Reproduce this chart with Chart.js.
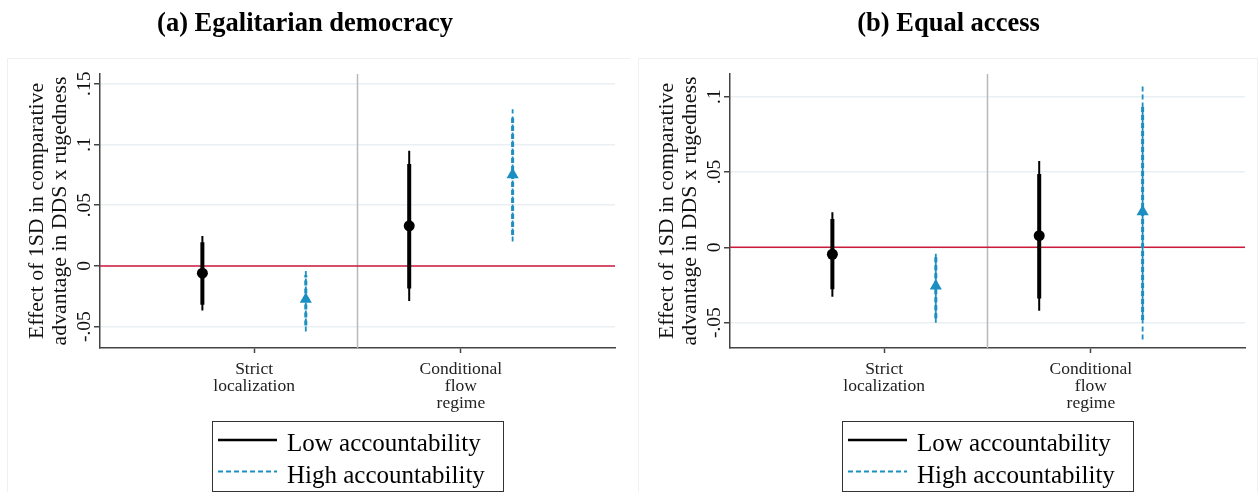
<!DOCTYPE html>
<html>
<head>
<meta charset="utf-8">
<script src="https://cdn.jsdelivr.net/npm/chart.js@4.4.1/dist/chart.umd.min.js"></script>
<style>
  html, body { margin: 0; padding: 0; background: #fff; }
  #wrap { position: relative; width: 1258px; height: 492px; overflow: hidden; background: #fff; }
  #wrap canvas { position: absolute; top: 0; }
</style>
</head>
<body>
<div id="wrap">
  <canvas id="panelA" width="630" height="492" style="left:0px"></canvas>
  <canvas id="panelB" width="628" height="492" style="left:630px"></canvas>
</div>
<script>
// Categories, series and tick labels
const categories = [["Strict", "localization"], ["Conditional", "flow", "regime"]];
const seriesNames = ["Low accountability", "High accountability"];
const panelTitles = ["(a) Egalitarian democracy", "(b) Equal access"];
const yAxisTitle = ["Effect of 1SD in comparative", "advantage in DDS x rugedness"];

const egalYRange = [-0.0676, 0.158];
const egalYTicks = [-0.05, 0, 0.05, 0.1, 0.15];
const egalYTickLabels = ["-.05", "0", ".05", ".1", ".15"];
const accessYRange = [-0.0668, 0.115];
const accessYTicks = [-0.05, 0, 0.05, 0.1];
const accessYTickLabels = ["-.05", "0", ".05", ".1"];

// (a) Egalitarian democracy: point estimates with 95% and 90% intervals
const egalLowEst = [-0.006, 0.033];
const egalLowCI95 = [[-0.0368, 0.0247], [-0.0288, 0.0948]];
const egalLowCI90 = [[-0.032, 0.0195], [-0.0187, 0.084]];
const egalHighEst = [-0.0275, 0.075];
const egalHighCI95 = [[-0.054, -0.0042], [0.020, 0.129]];
const egalHighCI90 = [[-0.049, -0.0075], [0.0255, 0.124]];

// (b) Equal access
const accessLowEst = [-0.0046, 0.0077];
const accessLowCI95 = [[-0.0328, 0.0232], [-0.0421, 0.0573]];
const accessLowCI90 = [[-0.0279, 0.0188], [-0.0339, 0.0487]];
const accessHighEst = [-0.0257, 0.0236];
const accessHighCI95 = [[-0.050, -0.0036], [-0.0611, 0.1084]];
const accessHighCI90 = [[-0.047, -0.0065], [-0.0483, 0.0945]];

const SERIF = '"Liberation Serif", "Times New Roman", Times, serif';
const LOW_COLOR = '#000000';
const HIGH_COLOR = '#1b8ec2';
const ZERO_COLOR = '#cc1a3c';
const DIVIDER_COLOR = '#b9b9b9';
const AXIS_COLOR = '#444444';
const GRID_COLOR = '#e9eff2';
const FRAME_COLOR = '#eef1f3';
const OFFSET = 0.25;   // horizontal shift of each series around its category

function segments(ci, offset) {
  const pts = [];
  ci.forEach((c, i) => {
    const x = i + 1 + offset;
    pts.push({ x, y: c[0] }, { x, y: c[1] }, { x, y: null });
  });
  return pts;
}
function points(est, offset) {
  return est.map((v, i) => ({ x: i + 1 + offset, y: v }));
}

function buildPanel(canvasId, title, titleX, frame, yRange, yTicks, yTickLabels,
                    lowEst, lowCI95, lowCI90, highEst, highCI95, highCI90) {
  const canvas = document.getElementById(canvasId);
  const W = canvas.width;

  const decorations = {
    id: 'decorations_' + canvasId,
    beforeDraw(chart) {
      const ctx = chart.ctx;
      ctx.save();
      ctx.fillStyle = '#ffffff';
      ctx.fillRect(0, 0, chart.width, chart.height);
      ctx.strokeStyle = FRAME_COLOR;
      ctx.lineWidth = 1;
      ctx.strokeRect(frame[0] + 0.5, 58.5, frame[1] - frame[0], chart.height + 20);
      ctx.restore();
    },
    beforeDatasetsDraw(chart) {
      const { ctx, chartArea, scales } = chart;
      ctx.save();
      // divider between the two regimes
      const xd = scales.x.getPixelForValue(1.5);
      ctx.strokeStyle = DIVIDER_COLOR;
      ctx.lineWidth = 1.5;
      ctx.beginPath();
      ctx.moveTo(xd, chartArea.top);
      ctx.lineTo(xd, chartArea.bottom);
      ctx.stroke();
      // zero reference line
      const y0 = scales.y.getPixelForValue(0);
      ctx.strokeStyle = ZERO_COLOR;
      ctx.lineWidth = 1.5;
      ctx.beginPath();
      ctx.moveTo(chartArea.left, y0);
      ctx.lineTo(chartArea.right, y0);
      ctx.stroke();
      ctx.restore();
    },
    afterDraw(chart) {
      const { ctx, chartArea, scales } = chart;
      ctx.save();
      // panel title
      ctx.fillStyle = '#000';
      ctx.font = 'bold 26.5px ' + SERIF;
      ctx.textAlign = 'center';
      ctx.textBaseline = 'alphabetic';
      ctx.fillText(title, titleX, 31);

      // vertical tick labels on the y axis
      ctx.font = '19.5px ' + SERIF;
      ctx.fillStyle = '#111';
      yTicks.forEach((v, i) => {
        const py = scales.y.getPixelForValue(v);
        ctx.save();
        ctx.translate(85, py);
        ctx.rotate(-Math.PI / 2);
        ctx.textAlign = 'center';
        ctx.textBaseline = 'middle';
        ctx.fillText(yTickLabels[i], 0, 0);
        ctx.restore();
      });

      // y axis title (two lines)
      const cy = (chartArea.top + chartArea.bottom) / 2;
      ctx.font = '21.8px ' + SERIF;
      ctx.fillStyle = '#111';
      [37, 60].forEach((x, i) => {
        ctx.save();
        ctx.translate(x, cy);
        ctx.rotate(-Math.PI / 2);
        ctx.textAlign = 'center';
        ctx.textBaseline = 'middle';
        ctx.fillText(yAxisTitle[i], 0, 0);
        ctx.restore();
      });

      // legend
      ctx.strokeStyle = '#333';
      ctx.lineWidth = 1;
      ctx.strokeRect(212.5, 421.5, 291, 70);
      ctx.lineCap = 'butt';
      ctx.strokeStyle = LOW_COLOR;
      ctx.lineWidth = 2.5;
      ctx.setLineDash([]);
      ctx.beginPath(); ctx.moveTo(218, 440); ctx.lineTo(277, 440); ctx.stroke();
      ctx.strokeStyle = HIGH_COLOR;
      ctx.lineWidth = 2;
      ctx.setLineDash([5, 3]);
      ctx.beginPath(); ctx.moveTo(218, 471.5); ctx.lineTo(277, 471.5); ctx.stroke();
      ctx.setLineDash([]);
      ctx.fillStyle = '#000';
      ctx.font = '25px ' + SERIF;
      ctx.textAlign = 'left';
      ctx.textBaseline = 'alphabetic';
      ctx.fillText(seriesNames[0], 287, 451);
      ctx.fillText(seriesNames[1], 287, 483);
      ctx.restore();
    }
  };

  return new Chart(canvas, {
    type: 'scatter',
    data: {
      datasets: [
        { label: seriesNames[0], data: points(lowEst, -OFFSET), pointStyle: 'circle',
          pointRadius: 5.5, backgroundColor: LOW_COLOR, borderWidth: 0, showLine: false },
        { label: seriesNames[1], data: points(highEst, OFFSET), pointStyle: 'triangle',
          pointRadius: 7, backgroundColor: HIGH_COLOR, borderWidth: 0, showLine: false },
        { type: 'line', label: seriesNames[0] + ' 90%', data: segments(lowCI90, -OFFSET),
          borderColor: LOW_COLOR, borderWidth: 4, pointRadius: 0, spanGaps: false, borderCapStyle: 'butt' },
        { type: 'line', label: seriesNames[0] + ' 95%', data: segments(lowCI95, -OFFSET),
          borderColor: LOW_COLOR, borderWidth: 2, pointRadius: 0, spanGaps: false, borderCapStyle: 'butt' },
        { type: 'line', label: seriesNames[1] + ' 90%', data: segments(highCI90, OFFSET),
          borderColor: HIGH_COLOR, borderWidth: 3, borderDash: [5, 3], pointRadius: 0, spanGaps: false, borderCapStyle: 'butt' },
        { type: 'line', label: seriesNames[1] + ' 95%', data: segments(highCI95, OFFSET),
          borderColor: HIGH_COLOR, borderWidth: 1.8, borderDash: [5, 3], pointRadius: 0, spanGaps: false, borderCapStyle: 'butt' }
      ]
    },
    options: {
      responsive: false,
      animation: false,
      devicePixelRatio: 1,
      layout: { padding: { left: 70, right: W - 615, top: 74, bottom: 74 } },
      plugins: { legend: { display: false }, title: { display: false }, tooltip: { enabled: false } },
      scales: {
        x: {
          type: 'linear',
          min: 0.255, max: 2.745,
          afterBuildTicks: s => { s.ticks = [{ value: 1 }, { value: 2 }]; },
          afterFit: s => { s.height = 70; },
          ticks: {
            callback: v => categories[Math.round(v) - 1],
            font: { family: SERIF, size: 17.5, lineHeight: 0.98 },
            color: '#222', padding: 8, maxRotation: 0, minRotation: 0
          },
          grid: { drawOnChartArea: false, drawTicks: true, tickLength: 5, tickColor: AXIS_COLOR, tickWidth: 1.5 },
          border: { display: true, color: AXIS_COLOR, width: 1.5 }
        },
        y: {
          type: 'linear',
          min: yRange[0], max: yRange[1],
          afterBuildTicks: s => { s.ticks = yTicks.map(v => ({ value: v })); },
          afterFit: s => { s.width = 30; },
          ticks: { display: false },
          grid: { color: GRID_COLOR, lineWidth: 1.5, drawTicks: true, tickLength: 6, tickColor: AXIS_COLOR, tickWidth: 1.5 },
          border: { display: true, color: AXIS_COLOR, width: 1.5 }
        }
      }
    },
    plugins: [decorations]
  });
}

buildPanel('panelA', panelTitles[0], 305, [7, 630], egalYRange, egalYTicks, egalYTickLabels,
           egalLowEst, egalLowCI95, egalLowCI90, egalHighEst, egalHighCI95, egalHighCI90);
buildPanel('panelB', panelTitles[1], 318.5, [8, 627], accessYRange, accessYTicks, accessYTickLabels,
           accessLowEst, accessLowCI95, accessLowCI90, accessHighEst, accessHighCI95, accessHighCI90);
</script>
</body>
</html>
